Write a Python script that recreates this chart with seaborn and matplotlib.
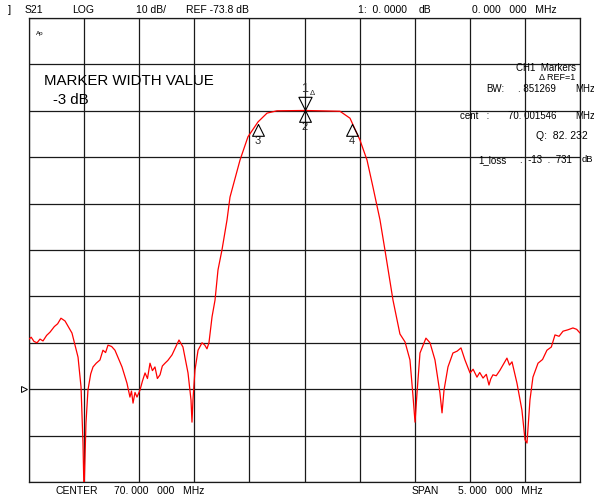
import numpy as np
import pandas as pd
import matplotlib.pyplot as plt
import seaborn as sns

# S21 trace (MHz, dB)
freq = [67.500, 67.520, 67.545, 67.573, 67.600, 67.627, 67.660, 67.691, 67.730, 67.760,
        67.790, 67.827, 67.890, 67.945, 67.972, 67.990, 67.999, 68.017, 68.035, 68.060,
        68.081, 68.110, 68.144, 68.171, 68.195, 68.217, 68.250, 68.280, 68.344, 68.389,
        68.416, 68.430, 68.444, 68.462, 68.480, 68.507, 68.530, 68.553, 68.575, 68.598,
        68.620, 68.643, 68.665, 68.689, 68.710, 68.734, 68.760, 68.798, 68.830, 68.861,
        68.897, 68.943, 68.970, 68.979, 68.988, 69.006, 69.034, 69.070, 69.095, 69.115,
        69.133, 69.161, 69.188, 69.215, 69.251, 69.297, 69.324, 69.415, 69.487, 69.578,
        69.660, 69.750, 70.004, 70.322, 70.413, 70.503, 70.567, 70.621, 70.685, 70.730,
        70.803, 70.866, 70.912, 70.957, 70.984, 71.003, 71.021, 71.048, 71.102, 71.139,
        71.184, 71.229, 71.248, 71.266, 71.302, 71.347, 71.385, 71.420, 71.456, 71.502,
        71.530, 71.565, 71.590, 71.620, 71.650, 71.674, 71.690, 71.710, 71.740, 71.774,
        71.805, 71.837, 71.860, 71.883, 71.928, 71.973, 72.001, 72.019, 72.046, 72.073,
        72.119, 72.160, 72.200, 72.240, 72.273, 72.310, 72.346, 72.390, 72.436, 72.470,
        72.500]
s21_db = [-63.0, -62.6, -63.5, -63.8, -63.0, -63.4, -62.2, -61.5, -60.3, -59.7,
          -58.5, -59.1, -61.7, -66.9, -73.3, -85.4, -96.0, -81.1, -74.0, -70.5,
          -69.0, -68.2, -67.5, -65.4, -65.9, -64.3, -64.6, -65.4, -69.0, -72.5,
          -75.5, -74.2, -76.8, -74.5, -75.5, -74.0, -72.0, -70.3, -71.5, -68.2,
          -69.8, -69.0, -71.5, -70.7, -68.8, -68.2, -67.6, -66.4, -64.8, -63.2,
          -64.7, -70.3, -76.1, -80.9, -76.1, -69.7, -65.4, -63.8, -64.3, -65.1,
          -63.8, -58.2, -54.6, -48.1, -43.8, -37.3, -32.4, -24.4, -19.4, -16.2,
          -14.3, -13.8, -13.73, -13.9, -15.4, -20.1, -24.4, -30.2, -37.3, -43.8,
          -54.6, -61.9, -63.6, -67.5, -75.1, -80.9, -74.6, -66.0, -62.8, -63.8,
          -67.5, -74.6, -78.9, -74.0, -69.0, -66.0, -65.6, -64.9, -67.5, -70.3,
          -69.5, -71.2, -70.2, -71.4, -70.6, -72.9, -71.6, -70.7, -70.9, -69.7,
          -68.4, -67.1, -68.6, -67.9, -72.5, -78.3, -84.7, -85.4, -76.1, -71.2,
          -68.2, -67.4, -65.4, -64.7, -62.1, -62.4, -61.3, -61.0, -60.6, -60.9,
          -61.7]

# markers: 1 = ref (center), 2 = center, 3/4 = -3 dB points
mk_freq = [70.000, 70.000, 69.576, 70.427]
mk_db = [-13.73, -13.73, -16.73, -16.73]
mk_label = ['1', '2', '3', '4']

center_mhz = 70.0
span_mhz = 5.0
ref_db = -73.8
scale_db = 10
ref_pos = 2  # divisions from bottom

df = pd.DataFrame({'freq': freq, 'db': s21_db})

sns.set_style('white')
plt.rcParams['font.family'] = ['Liberation Sans Narrow', 'Liberation Sans', 'DejaVu Sans']

W, H = 594, 501
fig = plt.figure(figsize=(W / 100, H / 100), dpi=100)
ax = fig.add_axes([29 / W, 1 - 482 / H, 551 / W, 464 / H])

f0 = center_mhz - span_mhz / 2
f1 = center_mhz + span_mhz / 2
y0 = ref_db - ref_pos * scale_db
y1 = y0 + 10 * scale_db
ax.set_xlim(f0, f1)
ax.set_ylim(y0, y1)
ax.set_xticks(np.linspace(f0, f1, 11))
ax.set_yticks(np.linspace(y0, y1, 11))
ax.grid(True, color='#1a1a1a', lw=0.9)
ax.tick_params(length=0, labelbottom=False, labelleft=False)
for s in ax.spines.values():
    s.set_color('#1a1a1a')
    s.set_linewidth(0.9)

sns.lineplot(data=df, x='freq', y='db', ax=ax, color='red', lw=0.9,
             estimator=None, sort=False, zorder=3)
ax.set_xlabel('')
ax.set_ylabel('')

up_tri = [(0, 0), (-0.5, -1), (0.5, -1), (0, 0)]
dn_tri = [(0, 0), (-0.5, 1), (0.5, 1), (0, 0)]
for f, d, lab in zip(mk_freq, mk_db, mk_label):
    if lab == '1':
        ax.plot(f, d, marker=dn_tri, ms=19, mfc='none', mec='black', mew=0.8, zorder=4)
        ax.annotate(lab, (f, d), xytext=(0, 11), textcoords='offset points',
                    ha='center', va='bottom', fontsize=9)
        ax.annotate('\u0394', (f, d), xytext=(5.5, 9.5), textcoords='offset points',
                    ha='center', va='bottom', fontsize=5.5)
    else:
        ax.plot(f, d, marker=up_tri, ms=17, mfc='none', mec='black', mew=0.8, zorder=4)
        ax.annotate(lab, (f, d), xytext=(0, -8.5), textcoords='offset points',
                    ha='center', va='top', fontsize=8)

# reference position arrow just outside the left edge
ax.plot([f0 - 0.045], [ref_db], marker='>', ms=5, mfc='none', mec='black', mew=0.7,
        clip_on=False, zorder=5)


def put(x, y, s, size=7.5, ha='left'):
    fig.text(x / W, 1 - y / H, s, fontsize=size, ha=ha, va='center', color='black')


# header line
put(8, 10, ']', 8)
put(25, 10, 'S21')
put(72, 10, 'LOG')
put(136, 10, '10 dB/')
put(186, 10, 'REF -73.8 dB')
put(358, 10, '1:  0. 0000')
put(419, 10, 'dB')
put(472, 10, '0. 000   000   MHz')

# footer line
put(55, 491, 'CENTER')
put(114, 491, '70. 000   000   MHz')
put(412, 491, 'SPAN')
put(458, 491, '5. 000   000   MHz')

# annotations in the graticule
put(36, 33, 'Ap', 4.5)
put(44, 81, 'MARKER WIDTH VALUE', 10.8)
put(53, 100, '-3 dB', 10.8)

put(516, 68, 'CH1  Markers', 7)
put(539, 78, '\u0394 REF=1', 6.5)
put(486, 89, 'BW:', 7)
put(518, 89, '. 851269', 7)
put(575, 89, 'MHz', 7)
put(460, 116, 'cent   :', 7)
put(508, 116, '70. 001546', 7)
put(575, 116, 'MHz', 7)
put(536, 136, 'Q:  82. 232', 7.5)
put(478, 160, '1_loss', 7)
put(520, 160, ':  -13  .  731', 7)
put(582, 160, 'dB', 6.8)

fig.savefig('out.png', dpi=100, facecolor='white')
